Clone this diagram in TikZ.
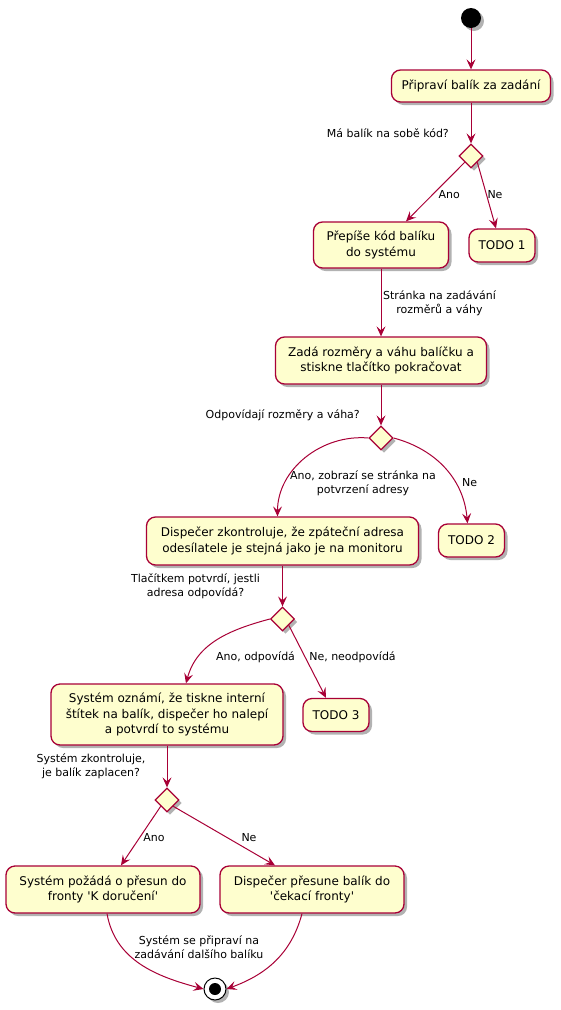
\documentclass[tikz,border=0pt]{standalone}
\usepackage{fontspec}
\setmainfont{DejaVu Sans}
\usetikzlibrary{arrows.meta,shapes.geometric,shadows}
\definecolor{umlred}{HTML}{A80036}
\definecolor{umlfill}{HTML}{FEFECE}
\tikzset{
  shade3/.style={drop shadow={shadow xshift=3pt, shadow yshift=-3pt, opacity=0.3, fill=black}},
  act/.style={draw=umlred, fill=umlfill, line width=1.3pt, rounded corners=9pt, align=center,
    inner sep=0pt, font=\fontsize{12}{15.5}\selectfont, shade3},
  dims/.style 2 args={minimum width=#1, minimum height=#2},
  choice/.style={diamond, draw=umlred, fill=umlfill, line width=1.3pt, minimum width=24pt,
    minimum height=24pt, inner sep=0pt, shade3},
  flow/.style={draw=umlred, line width=1pt, -{Stealth[length=10pt,width=9pt,inset=4pt]}},
  lbl/.style={align=center, font=\fontsize{11}{13.5}\selectfont, inner sep=0pt}
}
\begin{document}
\begin{tikzpicture}[x=1pt,y=1pt]
\useasboundingbox (0,0) rectangle (561,-1010);
\node[circle, fill=black, minimum size=20pt, inner sep=0pt, shade3] (s) at (471,-18) {};
\node[act, dims={159pt}{32pt}] (a1) at (471,-86) {Připraví balík za zadání};
\node[choice] (d1) at (471,-156) {};
\node[act, dims={135pt}{46pt}] (a2) at (381,-245) {Přepíše kód balíku\\do systému};
\node[act, dims={211pt}{47pt}] (a3) at (381,-360.5) {Zadá rozměry a váhu balíčku a\\stiskne tlačítko pokračovat};
\node[choice] (d2) at (381,-438) {};
\node[act, dims={272pt}{48pt}] (a4) at (282.5,-541) {Dispečer zkontroluje, že zpáteční adresa\\odesílatele je stejná jako je na monitoru};
\node[choice] (d3) at (282.5,-619) {};
\node[act, dims={232pt}{61pt}] (a5) at (167,-714.5) {Systém oznámí, že tiskne interní\\štítek na balík, dispečer ho nalepí\\a potvrdí to systému};
\node[choice] (d4) at (167,-800) {};
\node[act, dims={194pt}{47pt}] (a6) at (103,-889.5) {Systém požádá o přesun do\\fronty \textquotesingle K doručení\textquotesingle};
\node[act, dims={184pt}{47pt}] (a7) at (312,-889.5) {Dispečer přesune balík do\\\textquotesingle čekací fronty\textquotesingle};
\foreach \x/\y/\i in {502/245.5/1, 471.5/540.5/2, 336/715/3}
  \node[act, dims={66pt}{33pt}] (t\i) at (\x,-\y) {TODO \i};
\node[circle, draw=black, fill=white, line width=1pt, minimum size=22pt, inner sep=0pt, shade3] (e) at (215,-989) {};
\fill (e.center) circle (6);

\node[lbl, anchor=east] (q1) at (449,-133) {Má balík na sobě kód?};
\node[lbl, anchor=east] (q2) at (360,-415) {Odpovídají rozměry a váha?};
\node[lbl] (q3) at (195.5,-586) {Tlačítkem potvrdí, jestli\\adresa odpovídá?};
\node[lbl] (q4) at (91,-766) {Systém zkontroluje,\\je balík zaplacen?};

\draw[flow] (s) -- (a1);
\draw[flow] (a1) -- (d1);
\draw[flow] (d1.south west) -- ([xshift=25pt]a2.north) node[lbl, anchor=west] at (438,-195) {Ano};
\draw[flow] (d1.south east) -- ([xshift=-6pt]t1.north) node[lbl, anchor=west] at (487,-195) {Ne};
\draw[flow] (a2) -- (a3) node[lbl] at (439.5,-303) {Stránka na zadávání\\rozměrů a váhy};
\draw[flow] (a3) -- (d2);
\draw[flow] (d2.west) to[out=175, in=90] ([xshift=-5pt]a4.north);
\node[lbl] at (363,-483) {Ano, zobrazí se stránka na\\potvrzení adresy};
\draw[flow] (d2.east) to[out=-15, in=95] ([xshift=-4pt]t2.north);
\node[lbl, anchor=west] at (462,-483) {Ne};
\draw[flow] (a4) -- (d3);
\draw[flow] (d3.west) to[out=195, in=75] ([xshift=19pt]a5.north);
\node[lbl] at (255.5,-657) {Ano, odpovídá};
\draw[flow] (d3.south east) -- ([xshift=-10pt]t3.north);
\node[lbl] at (352.5,-657) {Ne, neodpovídá};
\draw[flow] (a5) -- (d4);
\draw[flow] (d4.south west) -- ([xshift=18pt]a6.north);
\node[lbl] at (154,-838) {Ano};
\draw[flow] (d4.south east) -- ([xshift=-37pt]a7.north);
\node[lbl] at (249,-838) {Ne};
\draw[flow] ([xshift=4pt]a6.south) to[out=-80, in=165] (e.west);
\draw[flow] ([xshift=-10pt]a7.south) to[out=-105, in=20] (e.east);
\node[lbl] at (199,-947) {Systém se připraví na\\zadávání dalšího balíku};
\end{tikzpicture}
\end{document}
